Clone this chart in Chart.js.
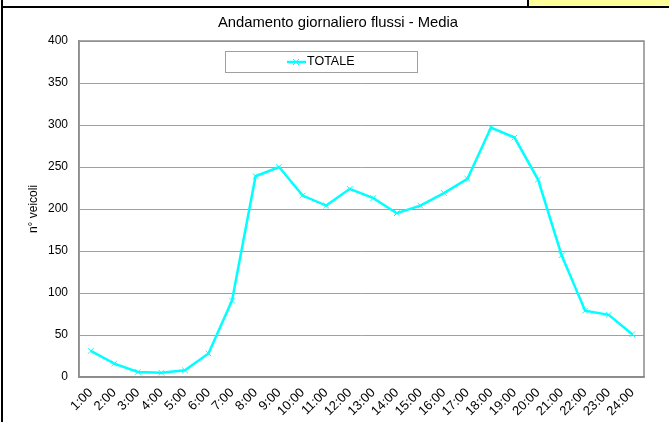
<!DOCTYPE html>
<html>
<head>
<meta charset="utf-8">
<script src="https://cdn.jsdelivr.net/npm/chart.js@4.4.1/dist/chart.umd.min.js"></script>
<style>
  html, body { margin: 0; padding: 0; background: #fff; }
  #wrap { position: relative; width: 669px; height: 422px; overflow: hidden; background: #fff; }
  #c { position: absolute; left: 0; top: 0; }
  .ln { position: absolute; background: #000; }
  #yellow { position: absolute; left: 529px; top: 0; width: 140px; height: 5px; background: #ffff99; }
</style>
</head>
<body>
<div id="wrap">
  <canvas id="c" width="669" height="422"></canvas>
  <div id="yellow"></div>
  <div class="ln" style="left:527px;top:0;width:2px;height:7px;"></div>
  <div class="ln" style="left:1px;top:6px;width:668px;height:2px;"></div>
  <div class="ln" style="left:1px;top:0;width:2px;height:422px;"></div>
</div>
<script>
const chartTitle = "Andamento giornaliero flussi - Media";
const yAxisTitle = "n° veicoli";
const seriesName = "TOTALE";
const hours = ["1:00","2:00","3:00","4:00","5:00","6:00","7:00","8:00","9:00","10:00","11:00","12:00",
               "13:00","14:00","15:00","16:00","17:00","18:00","19:00","20:00","21:00","22:00","23:00","24:00"];
const totale = [31, 16, 6, 5, 8, 28, 91, 239, 250, 216, 204, 224,
                213, 195, 204, 219, 236, 297, 285, 235, 145, 79, 74, 51];
const yMin = 0, yMax = 400, yStep = 50;

const FONT = "'Liberation Sans', Arial, sans-serif";
const CYAN = "#00ffff";

const titleShift = {
  id: 'titleShift',
  afterLayout(chart) {
    if (chart.titleBlock) {
      chart.titleBlock.left = 16;
      chart.titleBlock.right = 660;
    }
  }
};

const framePlugin = {
  id: 'frame',
  afterDraw(chart) {
    const {ctx, chartArea: a} = chart;
    ctx.save();
    ctx.strokeStyle = '#8c8c8c';
    ctx.lineWidth = 1.5;
    ctx.strokeRect(a.left, a.top, a.right - a.left, a.bottom - a.top);
    // legend box
    const bx = a.left + 146, by = a.top + 10, bw = 192, bh = 21;
    ctx.fillStyle = '#fff';
    ctx.fillRect(bx, by, bw, bh);
    ctx.strokeStyle = '#a0a0a0';
    ctx.lineWidth = 1;
    ctx.strokeRect(bx + 0.5, by + 0.5, bw, bh);
    const ds = chart.data.datasets[0];
    const cy = by + bh / 2 + 0.5;
    ctx.strokeStyle = CYAN;
    ctx.lineWidth = 2.5;
    ctx.beginPath(); ctx.moveTo(bx + 62, cy); ctx.lineTo(bx + 81, cy); ctx.stroke();
    ctx.lineWidth = 1;
    ctx.beginPath();
    ctx.moveTo(bx + 68, cy - 3); ctx.lineTo(bx + 74, cy + 3);
    ctx.moveTo(bx + 74, cy - 3); ctx.lineTo(bx + 68, cy + 3);
    ctx.stroke();
    ctx.fillStyle = '#000';
    ctx.font = "12.5px " + FONT;
    ctx.textBaseline = 'middle';
    ctx.textAlign = 'left';
    ctx.fillText(ds.label, bx + 82, cy);
    ctx.restore();
  }
};

new Chart(document.getElementById('c'), {
  type: 'line',
  data: {
    labels: hours,
    datasets: [{
      label: seriesName,
      data: totale,
      borderColor: CYAN,
      backgroundColor: CYAN,
      borderWidth: 2.5,
      tension: 0,
      pointStyle: 'crossRot',
      pointRadius: 4,
      pointBorderWidth: 1,
      pointBorderColor: CYAN,
      fill: false
    }]
  },
  options: {
    responsive: false,
    devicePixelRatio: 1,
    animation: false,
    layout: { padding: { top: 0, left: 0, right: 25, bottom: 0 } },
    plugins: {
      legend: { display: false },
      tooltip: { enabled: false },
      title: {
        display: true,
        text: chartTitle,
        color: '#000',
        font: { family: FONT, size: 14.8, weight: 'normal', lineHeight: 1.2 },
        padding: { top: 13.6, bottom: 9.64 }
      }
    },
    scales: {
      x: {
        type: 'category',
        offset: true,
        grid: { display: false, drawTicks: false },
        border: { display: true, color: '#8c8c8c', width: 1.5 },
        ticks: {
          color: '#000',
          font: { family: FONT, size: 13 },
          minRotation: 45, maxRotation: 45,
          autoSkip: false,
          padding: 8
        },
        afterFit(scale) { scale.height = 45; }
      },
      y: {
        min: yMin, max: yMax,
        grid: { color: '#a0a0a0', lineWidth: 1, drawTicks: false },
        border: { display: true, color: '#8c8c8c', width: 1.5 },
        ticks: {
          stepSize: yStep,
          color: '#000',
          font: { family: FONT, size: 12 },
          padding: 11
        },
        title: {
          display: true,
          text: yAxisTitle,
          color: '#000',
          font: { family: FONT, size: 12, lineHeight: 1.2 },
          padding: { top: 26, bottom: 0 }
        },
        afterFit(scale) { scale.width = 79; }
      }
    }
  },
  plugins: [titleShift, framePlugin]
});
</script>
</body>
</html>
